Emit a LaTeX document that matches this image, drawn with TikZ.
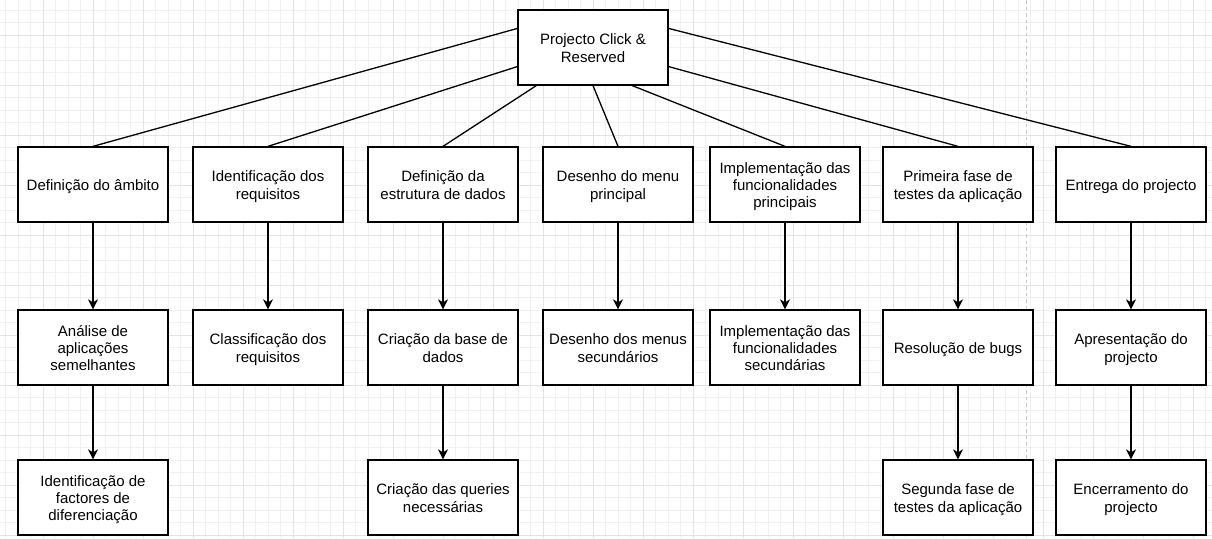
\documentclass[tikz,border=0pt]{standalone}
\usepackage{fontspec}
\setmainfont{Liberation Sans}
\usetikzlibrary{arrows.meta,calc}

\tikzset{
    box/.style={
        draw=black, fill=white, line width=1.3pt,
        minimum width=150pt, minimum height=75pt,
        inner sep=0pt, align=center,
        font=\fontsize{15}{17.25}\selectfont,
        execute at begin node={\rule{0pt}{\dimexpr 15.5pt+17.25pt*(#1-1)\relax}},
        execute at end node={\rule[-3.3pt]{0pt}{3.3pt}}
    },
    box/.default=1,
    link/.style={black, line width=1.3pt},
    down/.style={black, line width=1.3pt, -{Stealth[length=10pt,width=10pt,inset=3pt]}},
    gridminor/.style={line width=0.8pt, color=black!6},
    gridmajor/.style={line width=0.8pt, color=black!11}
}

\begin{document}
\begin{tikzpicture}[x=1pt, y=-1pt]
    \useasboundingbox [fill=white] (0,0) rectangle (1212,538);
    % grid of the page
    \foreach \i in {0,...,96}
        \draw [gridminor] ({5.83+12.5*\i},0) -- ({5.83+12.5*\i},538);
    \foreach \i in {0,...,42}
        \draw [gridminor] (0,{10+12.5*\i}) -- (1212,{10+12.5*\i});
    \foreach \i in {0,...,24}
        \draw [gridmajor] ({-6.67+50*\i},0) -- ({-6.67+50*\i},538);
    \foreach \i in {0,...,10}
        \draw [gridmajor] (0,{35+50*\i}) -- (1212,{35+50*\i});
    % page break
    \draw [black!22, line width=1.2pt, dash pattern=on 3.5pt off 3pt] (1026.7,0) -- (1026.7,538);

    % root
    \node [box=2] (projecto) at (593,47.5) {Projecto Click \&\\Reserved};

    % first level
    \node [box]   (ambito)     at (93,184.5)   {Definição do âmbito};
    \node [box=2] (requisitos) at (268,184.5)  {Identificação dos\\requisitos};
    \node [box=2] (estrutura)  at (443,184.5)  {Definição da\\estrutura de dados};
    \node [box=2] (menu)       at (618,184.5)  {Desenho do menu\\principal};
    \node [box=3] (funcprinc)  at (785,184.5)  {Implementação das\\funcionalidades\\principais};
    \node [box=2] (testes1)    at (958,184.5)  {Primeira fase de\\testes da aplicação};
    \node [box]   (entrega)    at (1131,184.5) {Entrega do projecto};

    % second level
    \node [box=3] (analise)  at (93,347.5)   {Análise de\\aplicações\\semelhantes};
    \node [box=2] (classif)  at (268,347.5)  {Classificação dos\\requisitos};
    \node [box=2] (base)     at (443,347.5)  {Criação da base de\\dados};
    \node [box=2] (menus)    at (618,347.5)  {Desenho dos menus\\secundários};
    \node [box=3] (funcsec)  at (785,347.5)  {Implementação das\\funcionalidades\\secundárias};
    \node [box]   (bugs)     at (958,347.5)  {Resolução de bugs};
    \node [box=2] (apresent) at (1131,347.5) {Apresentação do\\projecto};

    % third level
    \node [box=3] (factores) at (93,497.5)   {Identificação de\\factores de\\diferenciação};
    \node [box=2] (queries)  at (443,497.5)  {Criação das queries\\necessárias};
    \node [box=2] (testes2)  at (958,497.5)  {Segunda fase de\\testes da aplicação};
    \node [box=2] (encerra)  at (1131,497.5) {Encerramento do\\projecto};

    % root to first level
    \draw [link] ($(projecto.north west)!.25!(projecto.south west)$) -- (ambito.north);
    \draw [link] ($(projecto.north west)!.75!(projecto.south west)$) -- (requisitos.north);
    \draw [link] ($(projecto.south west)!.125!(projecto.south east)$) -- (estrutura.north);
    \draw [link] (projecto.south) -- (menu.north);
    \draw [link] ($(projecto.south west)!.76!(projecto.south east)$) -- (funcprinc.north);
    \draw [link] ($(projecto.north east)!.75!(projecto.south east)$) -- (testes1.north);
    \draw [link] ($(projecto.north east)!.25!(projecto.south east)$) -- (entrega.north);

    % first to second level
    \draw [down] (ambito) -- (analise);
    \draw [down] (requisitos) -- (classif);
    \draw [down] (estrutura) -- (base);
    \draw [down] (menu) -- (menus);
    \draw [down] (funcprinc) -- (funcsec);
    \draw [down] (testes1) -- (bugs);
    \draw [down] (entrega) -- (apresent);

    % second to third level
    \draw [down] (analise) -- (factores);
    \draw [down] (base) -- (queries);
    \draw [down] (bugs) -- (testes2);
    \draw [down] (apresent) -- (encerra);
\end{tikzpicture}
\end{document}
